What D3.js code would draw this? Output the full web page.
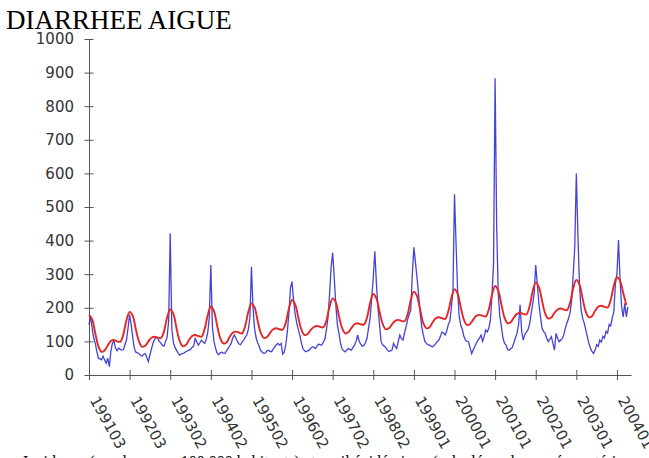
<!DOCTYPE html>
<meta charset="utf-8">
<script src="https://d3js.org/d3.v7.min.js"></script>
<style>
  body { margin: 0; background: #fff; }
  .titre { font-family: "Liberation Serif", "Times New Roman", serif; font-size: 27px; fill: #000; }
  .note { font-family: "Liberation Serif", "Times New Roman", serif; font-size: 16px; fill: #000; }
  .axe text { font-family: "DejaVu Sans", Verdana, sans-serif; font-size: 15px; fill: #333; }
  .axe path, .axe line { stroke: #555; stroke-width: 1; }
</style>
<div id="graphe"></div>
<script>
  // semaines (annee + numero de semaine) des graduations, une toutes les 52 semaines
  var etiquettesSemaines = ["199103", "199203", "199302", "199402", "199502", "199602", "199702",
    "199802", "199901", "200001", "200101", "200201", "200301", "200401"];
  var graduationsY = [0, 100, 200, 300, 400, 500, 600, 700, 800, 900, 1000];

  // incidence, une valeur toutes les 2 semaines depuis 199103
  var pasIncidence = 2;
  var incidence = [
    150, 174, 140, 110, 95, 70, 50, 48, 45, 56, 45, 35, 50, 25, 70, 95, 100, 80, 72, 80, 76, 74, 75, 90, 104, 140,
    180, 150, 112, 80, 68, 66, 64, 58, 56, 62, 64, 52, 40, 60, 78, 95, 106, 112, 110, 100, 95, 88, 86, 100, 112, 160,
    422, 140, 98, 82, 74, 66, 59, 62, 64, 66, 69, 72, 74, 76, 82, 86, 109, 98, 89, 96, 104, 98, 94, 105, 125, 170,
    327, 144, 100, 80, 65, 60, 66, 68, 65, 64, 72, 79, 86, 94, 110, 119, 110, 100, 92, 90, 98, 104, 112, 119, 135, 170,
    322, 200, 138, 110, 96, 85, 72, 68, 64, 66, 72, 74, 70, 70, 78, 84, 90, 94, 89, 94, 62, 68, 90, 130, 185, 260,
    278, 220, 180, 155, 135, 118, 95, 78, 72, 69, 72, 74, 80, 84, 82, 79, 86, 92, 90, 89, 98, 106, 135, 170, 240, 320,
    364, 290, 210, 150, 125, 95, 78, 72, 69, 74, 79, 76, 74, 82, 89, 100, 119, 100, 92, 86, 88, 96, 110, 140, 170, 230,
    290, 368, 273, 200, 150, 100, 90, 86, 82, 74, 70, 72, 74, 94, 85, 79, 100, 119, 108, 104, 125, 144, 165, 180, 194, 300,
    380, 335, 290, 240, 185, 145, 120, 100, 94, 90, 89, 86, 84, 88, 94, 100, 104, 115, 128, 125, 119, 130, 150, 160, 200, 250,
    538, 390, 250, 175, 148, 136, 115, 104, 100, 99, 80, 64, 75, 84, 95, 104, 110, 119, 100, 115, 134, 128, 140, 164, 240, 330,
    883, 442, 243, 175, 145, 110, 95, 89, 76, 74, 78, 82, 95, 110, 124, 150, 209, 130, 104, 120, 128, 134, 150, 180, 210, 243,
    327, 270, 215, 175, 140, 130, 124, 110, 99, 106, 114, 95, 74, 124, 110, 99, 104, 108, 120, 140, 155, 168, 185, 223, 300, 380,
    600, 420, 270, 195, 170, 155, 135, 115, 95, 80, 70, 64, 74, 90, 85, 104, 98, 115, 110, 130, 125, 150, 146, 170, 188, 270,
    300, 402, 283, 203, 173, 213, 173, 203
  ];

  // seuil epidemique, une valeur toutes les 4 semaines
  var pasSeuil = 4;
  var seuil = [
    179, 166, 124, 86, 69, 73, 88, 101, 104, 100, 99, 121, 163,
    188, 176, 136, 100, 84, 87, 100, 111, 114, 111, 110, 130, 171,
    195, 182, 140, 102, 86, 89, 104, 116, 119, 116, 114, 136, 178,
    203, 190, 148, 110, 94, 97, 113, 126, 129, 126, 124, 146, 188,
    213, 201, 161, 125, 110, 113, 126, 136, 139, 136, 135, 156, 198,
    223, 210, 171, 135, 119, 122, 134, 143, 146, 143, 142, 162, 203,
    228, 216, 176, 140, 124, 127, 140, 151, 154, 151, 150, 171, 215,
    241, 228, 188, 152, 136, 139, 151, 161, 164, 161, 160, 181, 223,
    248, 235, 194, 155, 139, 142, 157, 169, 172, 169, 167, 189, 230,
    255, 242, 202, 165, 149, 152, 165, 176, 179, 176, 174, 196, 239,
    265, 252, 210, 171, 154, 157, 171, 182, 185, 182, 180, 203, 248,
    275, 262, 222, 184, 168, 171, 185, 195, 198, 195, 193, 215, 258,
    283, 270, 228, 189, 172, 175, 191, 203, 206, 203, 201, 223, 266,
    291, 280, 245, 208
  ];

  var width = 649, height = 458;

  var svg = d3.select("#graphe")
    .append("svg")
    .attr("width", width)
    .attr("height", height);

  var x = d3.scaleLinear().domain([0, 694]).range([89, 631]);
  var y = d3.scaleLinear().domain([0, 1000]).range([375, 39]);

  svg.append("text")
    .attr("class", "titre")
    .attr("x", 6)
    .attr("y", 29)
    .text("DIARRHEE AIGUE");

  // axe des ordonnees
  var axeY = svg.append("g")
    .attr("class", "axe")
    .attr("transform", "translate(" + x(0) + ",0)")
    .call(d3.axisLeft(y).tickValues(graduationsY).tickFormat(d3.format("d"))
      .tickSize(0).tickSizeOuter(0).tickPadding(15));
  axeY.selectAll(".tick line").attr("x1", -4.5).attr("x2", 4.5);

  // axe des abscisses
  var axeX = svg.append("g")
    .attr("class", "axe")
    .attr("transform", "translate(0," + y(0) + ")")
    .call(d3.axisBottom(x)
      .tickValues(etiquettesSemaines.map(function (d, i) { return i * 52; }))
      .tickFormat(function (d, i) { return etiquettesSemaines[i]; })
      .tickSizeOuter(0));
  axeX.selectAll(".tick line").attr("y1", -5).attr("y2", 5);
  axeX.selectAll(".tick text")
    .attr("x", 0).attr("y", 0).attr("dy", 0)
    .attr("text-anchor", "start")
    .attr("transform", "translate(0,25) rotate(61)");

  var ligneIncidence = d3.line()
    .x(function (d, i) { return x(i * pasIncidence); })
    .y(function (d) { return y(d); });

  var ligneSeuil = d3.line()
    .curve(d3.curveCatmullRom)
    .x(function (d, i) { return x(i * pasSeuil); })
    .y(function (d) { return y(d); });

  svg.append("path")
    .datum(incidence)
    .attr("d", ligneIncidence)
    .attr("fill", "none")
    .attr("stroke", "#2f2fd6")
    .attr("stroke-width", 1.3)
    .attr("stroke-opacity", 0.9);

  svg.append("path")
    .datum(seuil)
    .attr("d", ligneSeuil)
    .attr("fill", "none")
    .attr("stroke", "#e32626")
    .attr("stroke-width", 1.9);

  svg.append("text")
    .attr("class", "note")
    .attr("x", 23)
    .attr("y", 467)
    .text("Incidence (nombre pour 100 000 habitants) et seuil épidémique (calculé sur les années antérieures)");
</script>
